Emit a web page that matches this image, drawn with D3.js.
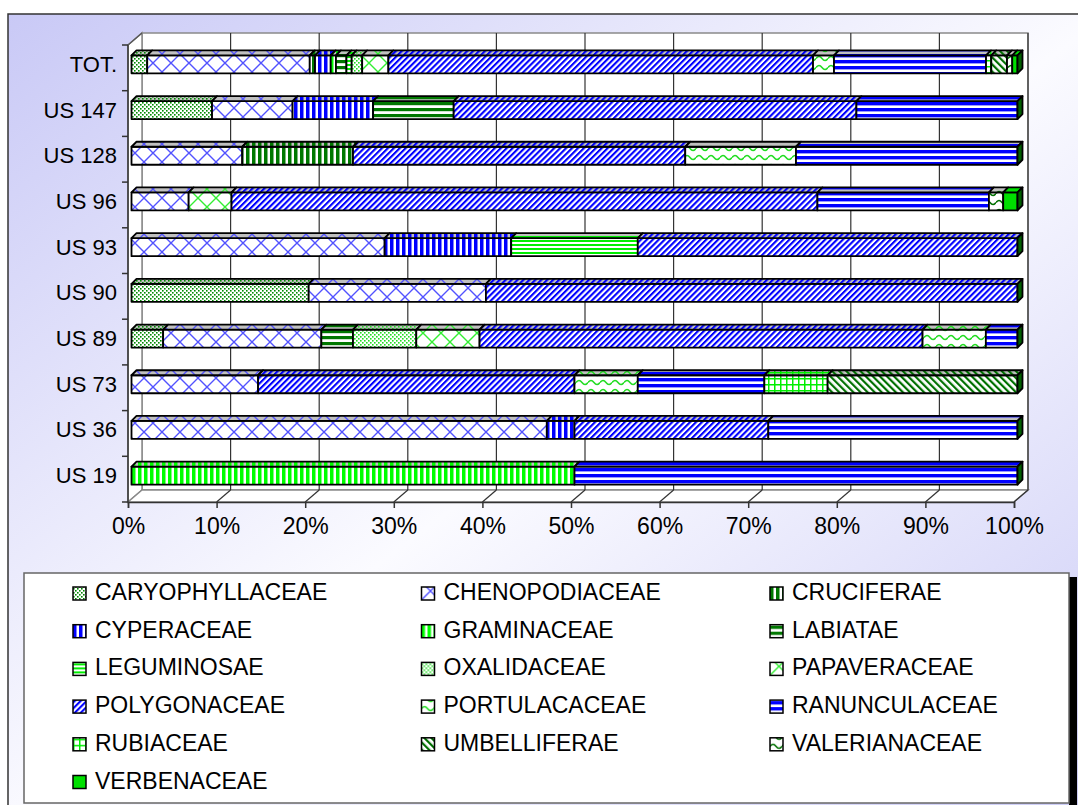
<!DOCTYPE html>
<html>
<head>
<meta charset="utf-8">
<script src="https://cdn.jsdelivr.net/npm/d3@7"></script>
<style>
  body { margin: 0; background: #fff; }
  text { font-family: Arial, "Liberation Sans", sans-serif; fill: #000; }
</style>
</head>
<body>
<script>
// 100% stacked 3D bar chart of plant families per sample

var W = 1078;
var H = 805;

// rows, top to bottom
var rows = ["TOT.", "US 147", "US 128", "US 96", "US 93", "US 90", "US 89", "US 73", "US 36", "US 19"];

var families = ["CARYOPHYLLACEAE", "CHENOPODIACEAE", "CRUCIFERAE", "CYPERACEAE", "GRAMINACEAE",
  "LABIATAE", "LEGUMINOSAE", "OXALIDACEAE", "PAPAVERACEAE", "POLYGONACEAE", "PORTULACACEAE",
  "RANUNCULACEAE", "RUBIACEAE", "UMBELLIFERAE", "VALERIANACEAE", "VERBENACEAE"];

// counts per row (same order as rows)
var caryophyllaceae = [3, 1, 0, 0, 0, 1, 1, 0, 0, 0];
var chenopodiaceae  = [31, 1, 1, 4, 2, 1, 5, 2, 15, 0];
var cruciferae      = [1, 0, 1, 0, 0, 0, 0, 0, 0, 0];
var cyperaceae      = [3, 1, 0, 0, 1, 0, 0, 0, 1, 0];
var graminaceae     = [1, 0, 0, 0, 0, 0, 0, 0, 0, 1];
var labiatae        = [2, 1, 0, 0, 0, 0, 1, 0, 0, 0];
var leguminosae     = [1, 0, 0, 0, 1, 0, 0, 0, 0, 0];
var oxalidaceae     = [2, 0, 0, 0, 0, 0, 2, 0, 0, 0];
var papaveraceae    = [5, 0, 0, 3, 0, 0, 2, 0, 0, 0];
var polygonaceae    = [81, 5, 3, 41, 3, 3, 14, 5, 7, 0];
var portulacaceae   = [4, 0, 1, 0, 0, 0, 2, 1, 0, 0];
var ranunculaceae   = [29, 2, 2, 12, 0, 0, 1, 2, 9, 1];
var rubiaceae       = [1, 0, 0, 0, 0, 0, 0, 1, 0, 0];
var umbelliferae    = [3, 0, 0, 0, 0, 0, 0, 3, 0, 0];
var valerianaceae   = [1, 0, 0, 1, 0, 0, 0, 0, 0, 0];
var verbenaceae     = [1, 0, 0, 1, 0, 0, 0, 0, 0, 0];

var xTicks = [0, 0.1, 0.2, 0.3, 0.4, 0.5, 0.6, 0.7, 0.8, 0.9, 1];

var seriesValues = [caryophyllaceae, chenopodiaceae, cruciferae, cyperaceae, graminaceae,
  labiatae, leguminosae, oxalidaceae, papaveraceae, polygonaceae, portulacaceae,
  ranunculaceae, rubiaceae, umbelliferae, valerianaceae, verbenaceae];

// geometry
var X0 = 128, X1 = 1014;      // front plane 0% / 100%
var DX = 14, DY = -12;         // wall depth
var YTOP = 45, YBOT = 502;
var BX = 3.5, BY = -3.5;       // bar front offset inside depth
var TX = 5, TY = -5;           // bar top depth
var BAR_H = 18;

var table = rows.map(function(r, i) {
  var o = { row: r };
  families.forEach(function(f, k) { o[f] = seriesValues[k][i]; });
  return o;
});

var svg = d3.select("body").append("svg")
  .attr("width", W)
  .attr("height", H);

var defs = svg.append("defs");

var grad = defs.append("linearGradient").attr("id", "bg")
  .attr("x1", 0).attr("y1", 0).attr("x2", 1).attr("y2", 1);
grad.append("stop").attr("offset", 0).attr("stop-color", "#c9c9f6");
grad.append("stop").attr("offset", 0.5).attr("stop-color", "#fbfbff");
grad.append("stop").attr("offset", 1).attr("stop-color", "#c9c9f6");

// pattern builders
function stripesV(p, c, w) { p.append("rect").attr("x", 0).attr("y", 0).attr("width", w).attr("height", 20).attr("fill", c); }
function stripesH(p, c, h) { p.append("rect").attr("x", 0).attr("y", 0).attr("width", 20).attr("height", h).attr("fill", c); }

var patternSpecs = [
  { w: 4, h: 4, draw: function(p) { // dotted dark green
      p.append("rect").attr("x", 0).attr("y", 0).attr("width", 1.6).attr("height", 1.6).attr("fill", "#008a00");
      p.append("rect").attr("x", 2).attr("y", 2).attr("width", 1.6).attr("height", 1.6).attr("fill", "#008a00"); } },
  { w: 18, h: 18, draw: function(p) { lattice(p, "#5252ff"); } },
  { w: 6, h: 6, draw: function(p) { stripesV(p, "#007800", 3.5); } },
  { w: 6, h: 6, draw: function(p) { stripesV(p, "#0000ff", 3.5); } },
  { w: 6, h: 6, draw: function(p) { stripesV(p, "#00ff00", 3.5); } },
  { w: 6, h: 6, draw: function(p) { stripesH(p, "#007800", 3.2); } },
  { w: 4, h: 4, draw: function(p) { stripesH(p, "#00ee00", 2); } },
  { w: 4, h: 4, draw: function(p) {
      p.append("rect").attr("x", 0).attr("y", 0).attr("width", 1.6).attr("height", 1.6).attr("fill", "#22dd22");
      p.append("rect").attr("x", 2).attr("y", 2).attr("width", 1.6).attr("height", 1.6).attr("fill", "#22dd22"); } },
  { w: 18, h: 18, draw: function(p) { lattice(p, "#33ee33"); } },
  { w: 4.2, h: 4.2, rot: 45, draw: function(p) { stripesV(p, "#0000ff", 2.1); } },
  { w: 12, h: 9, draw: function(p) { wave(p, "#22dd22"); } },
  { w: 6, h: 6, draw: function(p) { stripesH(p, "#0000ff", 3.4); } },
  { w: 6, h: 6, draw: function(p) {
      stripesV(p, "#00ee00", 1.5); stripesH(p, "#00ee00", 1.5); } },
  { w: 5, h: 5, rot: -45, draw: function(p) { stripesV(p, "#007000", 2.2); } },
  { w: 12, h: 9, draw: function(p) { wave(p, "#007000"); } },
  { w: 6, h: 6, draw: function(p) { stripesV(p, "#00e000", 6); } }
];

function lattice(p, c) {
  p.append("path")
    .attr("d", "M-2,-2L20,20M-2,20L20,-2")
    .attr("stroke", c).attr("stroke-width", 1.4).attr("fill", "none");
}
function wave(p, c) {
  p.append("path")
    .attr("d", "M0,4.5 Q3,0.5 6,4.5 T12,4.5")
    .attr("stroke", c).attr("stroke-width", 1.5).attr("fill", "none");
}

function makePattern(id, spec, bg) {
  var p = defs.append("pattern").attr("id", id)
    .attr("patternUnits", "userSpaceOnUse")
    .attr("width", spec.w).attr("height", spec.h);
  if (spec.rot) p.attr("patternTransform", "rotate(" + spec.rot + ")");
  p.append("rect").attr("width", spec.w).attr("height", spec.h).attr("fill", bg);
  spec.draw(p);
}

families.forEach(function(f, k) {
  makePattern("pf" + k, patternSpecs[k], "#ffffff");
  makePattern("pt" + k, patternSpecs[k], "#c0c0c0");
});

// chart area
svg.append("rect")
  .attr("x", 8).attr("y", 14)
  .attr("width", 1100).attr("height", 830)
  .attr("fill", "url(#bg)")
  .attr("stroke", "#333").attr("stroke-width", 1.5);

// scales
var x = d3.scaleLinear().domain([0, 1]).range([X0, X1]);
var y = d3.scaleBand().domain(rows).range([YTOP, YBOT]);

// walls
var walls = svg.append("g").attr("fill", "#fff").attr("stroke", "#8a8a8a").attr("stroke-width", 1.5);
walls.append("polygon").attr("points", [[X0 + DX, YTOP + DY], [X1 + DX, YTOP + DY], [X1 + DX, YBOT + DY], [X0 + DX, YBOT + DY]].join(" "));
walls.append("polygon").attr("points", [[X0, YTOP], [X0 + DX, YTOP + DY], [X0 + DX, YBOT + DY], [X0, YBOT]].join(" "));
walls.append("polygon").attr("points", [[X0, YBOT], [X1, YBOT], [X1 + DX, YBOT + DY], [X0 + DX, YBOT + DY]].join(" "));

// gridlines on back wall and floor
var grid = svg.append("g").attr("stroke", "#333").attr("stroke-width", 1.2);
grid.selectAll("line.back").data(xTicks.slice(1)).join("line")
  .attr("x1", function(d) { return x(d) + DX; }).attr("x2", function(d) { return x(d) + DX; })
  .attr("y1", YTOP + DY).attr("y2", YBOT + DY);
grid.selectAll("line.floor").data(xTicks.slice(1)).join("line")
  .attr("x1", function(d) { return x(d); }).attr("x2", function(d) { return x(d) + DX; })
  .attr("y1", YBOT).attr("y2", YBOT + DY);

// left axis
svg.append("line").attr("x1", X0).attr("x2", X0).attr("y1", YTOP).attr("y2", YBOT)
  .attr("stroke", "#333").attr("stroke-width", 1.5);
svg.append("line").attr("x1", X0).attr("x2", X0 + DX).attr("y1", YTOP).attr("y2", YTOP + DY)
  .attr("stroke", "#555").attr("stroke-width", 1.2);
svg.append("g").selectAll("line").data(rows.map(function(r) { return y(r); }).concat([YBOT])).join("line")
  .attr("x1", X0 - 6).attr("x2", X0)
  .attr("y1", function(d) { return d; }).attr("y2", function(d) { return d; })
  .attr("stroke", "#333").attr("stroke-width", 1.5);

var yAxis = svg.append("g")
  .attr("transform", "translate(" + X0 + ",-3)")
  .call(d3.axisLeft(y).tickSize(0).tickPadding(11));
yAxis.select(".domain").remove();
yAxis.selectAll("text").style("font-size", "22px").style("font-family", "Arial, 'Liberation Sans', sans-serif");

// bottom axis
var xAxis = svg.append("g")
  .attr("transform", "translate(0," + YBOT + ")")
  .call(d3.axisBottom(x).tickValues(xTicks).tickFormat(d3.format(".0%")).tickSize(6).tickPadding(10));
xAxis.select(".domain").attr("stroke", "#333").attr("stroke-width", 1.5);
xAxis.selectAll("line").attr("stroke", "#333").attr("stroke-width", 1.5);
xAxis.selectAll("text").style("font-size", "23px").style("font-family", "Arial, 'Liberation Sans', sans-serif");

// stacked bars
var series = d3.stack().keys(families).offset(d3.stackOffsetExpand)(table);

function barTop(d) { return y(d.data.row) + y.bandwidth() / 2 - BAR_H / 2 + BY; }

var bars = svg.append("g").attr("stroke", "#000").attr("stroke-width", 1.8).attr("stroke-linejoin", "round");

var groups = bars.selectAll("g").data(series).join("g");

groups.selectAll("rect")
  .data(function(s) { return s.filter(function(d) { return d[1] - d[0] > 0; }); })
  .join("rect")
  .attr("x", function(d) { return x(d[0]) + BX; })
  .attr("y", barTop)
  .attr("width", function(d) { return x(d[1]) - x(d[0]); })
  .attr("height", BAR_H)
  .attr("fill", function() { return "url(#pf" + families.indexOf(d3.select(this.parentNode).datum().key) + ")"; });

groups.selectAll("polygon")
  .data(function(s) { return s.filter(function(d) { return d[1] - d[0] > 0; }); })
  .join("polygon")
  .attr("points", function(d) {
    var a = x(d[0]) + BX, b = x(d[1]) + BX, t = barTop(d);
    return [[a, t], [b, t], [b + TX, t + TY], [a + TX, t + TY]].join(" ");
  })
  .attr("fill", function() { return "url(#pt" + families.indexOf(d3.select(this.parentNode).datum().key) + ")"; });

// end faces
bars.append("g").selectAll("polygon").data(table).join("polygon")
  .attr("points", function(d) {
    var e = x(1) + BX, t = y(d.row) + y.bandwidth() / 2 - BAR_H / 2 + BY;
    return [[e, t], [e + TX, t + TY], [e + TX, t + TY + BAR_H], [e, t + BAR_H]].join(" ");
  })
  .attr("fill", "#006000");

// legend
svg.append("rect").attr("x", 1069).attr("y", 577).attr("width", 8).attr("height", 240).attr("fill", "#000");
svg.append("rect")
  .attr("x", 24).attr("y", 573).attr("width", 1045).attr("height", 230)
  .attr("fill", "#fff").attr("stroke", "#666").attr("stroke-width", 1.5);

var legend = svg.append("g").selectAll("g").data(families).join("g")
  .attr("transform", function(d, i) {
    return "translate(" + (73 + (i % 3) * 348.5) + "," + (600 + Math.floor(i / 3) * 37.7) + ")";
  });
legend.append("rect")
  .attr("x", 0).attr("y", -13).attr("width", 13).attr("height", 13)
  .attr("fill", function(d, i) { return "url(#pf" + i + ")"; })
  .attr("stroke", "#000").attr("stroke-width", 1.5);
legend.append("text")
  .attr("x", 22).attr("y", 0)
  .style("font-size", "23px")
  .text(function(d) { return d; });
</script>
</body>
</html>
